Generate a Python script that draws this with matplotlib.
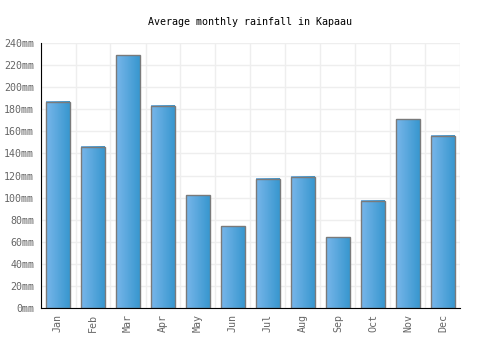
import numpy as np
import matplotlib
matplotlib.use("Agg")
import matplotlib.pyplot as plt
from matplotlib.colors import LinearSegmentedColormap

months = ['Jan', 'Feb', 'Mar', 'Apr', 'May', 'Jun', 'Jul', 'Aug', 'Sep', 'Oct', 'Nov', 'Dec']
rainfall = [187, 146, 229, 183, 102, 74, 117, 119, 64, 97, 171, 156]
yticks = list(range(0, 241, 20))

plt.rcParams['font.family'] = 'DejaVu Sans Mono'

fig = plt.figure(figsize=(5, 3.5), dpi=100)
ax = fig.add_axes([0.081, 0.12, 0.84, 0.757])

# horizontal gradient used to fill each bar
grad = np.linspace(0, 1, 64).reshape(1, -1)
cmap = LinearSegmentedColormap.from_list('bar', ['#78b6ea', '#3897cf'])

width = 0.67
x = np.arange(len(months))
bars = ax.bar(x, rainfall, width=width, facecolor='none', edgecolor='#7a7a7a',
              linewidth=1.0, zorder=3)
for b in bars:
    x0, y0 = b.get_x(), b.get_y()
    ax.imshow(grad, cmap=cmap, aspect='auto', zorder=2,
              extent=(x0, x0 + b.get_width(), y0, y0 + b.get_height()))

ax.set_xlim(-0.5, len(months) - 0.5)
ax.set_ylim(0, 240)
ax.set_yticks(yticks)
ax.set_yticklabels([f'{v}mm' for v in yticks])
ax.set_xticks(x)
ax.set_xticklabels(months, rotation=90)

# grid at category boundaries and each y tick
for xb in np.arange(-0.5, len(months), 1.0):
    ax.axvline(xb, color='#eeeeee', lw=1, zorder=0)
for yv in yticks:
    ax.axhline(yv, color='#eeeeee', lw=1, zorder=0)

ax.tick_params(length=0, labelsize=7.2, labelcolor='#666666', pad=4.5)
for s in ['top', 'right']:
    ax.spines[s].set_visible(False)
ax.spines['left'].set_color('black')
ax.spines['bottom'].set_color('black')
ax.spines['left'].set_zorder(4)
ax.spines['bottom'].set_zorder(4)

fig.text(0.5, 0.937, 'Average monthly rainfall in Kapaau', ha='center', va='center',
         fontsize=7.2, color='black')

fig.savefig('out.png', dpi=100)
